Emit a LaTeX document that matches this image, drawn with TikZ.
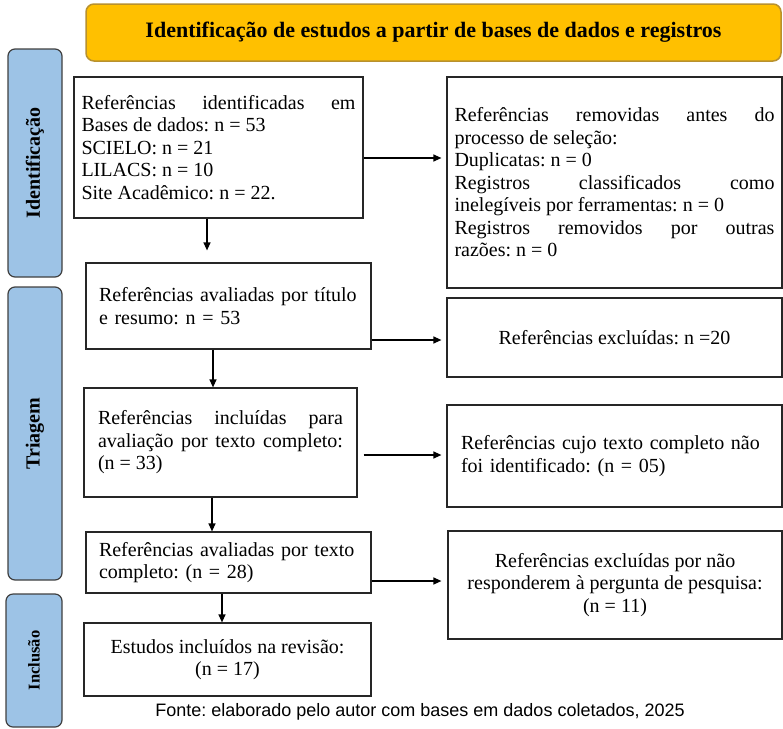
\documentclass[tikz,border=0pt]{standalone}
\usepackage{fontspec}
\setmainfont{Liberation Serif}
\setsansfont{Liberation Sans}
\usetikzlibrary{positioning, arrows.meta}
\frenchspacing

\definecolor{bannerfill}{HTML}{FFC000}
\definecolor{bannerline}{HTML}{B8912E}
\definecolor{phasefill}{HTML}{9DC3E6}
\definecolor{phaseline}{HTML}{404040}

\begin{document}
\begin{tikzpicture}[x=1pt, y=-1pt, >={Triangle[length=8pt, width=7pt]}, thick,
    box/.style={draw=black!85, line width=1.2pt, inner xsep=7pt, font=\fontsize{20}{22.5}\selectfont},
    phase/.style={draw=phaseline, fill=phasefill, line width=1.2pt, rounded corners=7pt, rotate=90, inner sep=0pt, font=\bfseries\fontsize{20}{22}\selectfont},
    arr/.style={->, line width=1.2pt}]
    \useasboundingbox (0,0) rectangle (783,728);

    % Title
    \node[draw=bannerline, fill=bannerfill, line width=1.5pt, rounded corners=8pt, minimum width=695pt, minimum height=57pt, font=\bfseries\fontsize{22}{24}\selectfont] (title) at (433.5,32.5) {Identificação de estudos a partir de bases de dados e registros};

    % Phases
    \node[phase, minimum width=228pt, minimum height=54pt] (fase1) at (35,163) {Identificação};
    \node[phase, minimum width=293pt, minimum height=54pt] (fase2) at (35,433.5) {Triagem};
    \node[phase, minimum width=133pt, minimum height=56pt, font=\bfseries\fontsize{16.5}{18}\selectfont] (fase3) at (34,660.5) {Inclusão};

    % Left column
    \node[box, minimum width=289pt, minimum height=141pt, text width=274pt, align=justify] (ident) at (218.5,147.5) {Referências identificadas em\linebreak Bases de dados: n = 53\\ SCIELO: n = 21\\ LILACS: n = 10\\ Site Acadêmico: n = 22.};
    \node[box, minimum width=285pt, minimum height=86pt, text width=259pt, align=left] (titulo) at (228.5,306) {Referências avaliadas por título\\ e resumo: n = 53};
    \node[box, minimum width=273pt, minimum height=109pt, text width=245pt, align=justify] (incl) at (220.5,442.5) {Referências incluídas para\linebreak avaliação por texto completo:\linebreak (n = 33)};
    \node[box, minimum width=285pt, minimum height=61pt, text width=259pt, align=left] (texto) at (228.5,562.5) {Referências avaliadas por texto\\ completo: (n = 28)};
    \node[box, minimum width=287pt, minimum height=73pt, align=center] (estudos) at (227.5,659.5) {Estudos incluídos na revisão:\\ (n = 17)};

    % Right column
    \node[box, minimum width=335pt, minimum height=211pt, text width=320pt, align=justify] (remov) at (614.5,182.5) {Referências removidas antes do\linebreak processo de seleção:\\ Duplicatas: n = 0\\ Registros classificados como\linebreak inelegíveis por ferramentas: n = 0\\ Registros removidos por outras\linebreak razões: n = 0};
    \node[box, minimum width=335pt, minimum height=79pt] (excl) at (614.5,337.5) {Referências excluídas: n =20};
    \node[box, minimum width=335pt, minimum height=102pt, text width=307pt, align=left] (naoid) at (614.5,456) {Referências cujo texto completo não\\ foi identificado: (n = 05)};
    \node[box, minimum width=334pt, minimum height=108pt, align=center] (pergunta) at (615,585) {Referências excluídas por não\\ responderem à pergunta de pesquisa:\\ (n = 11)};

    % Source
    \node[font=\sffamily\fontsize{18}{20}\selectfont] (fonte) at (420,712) {Fonte: elaborado pelo autor com bases em dados coletados, 2025};

    % Arrows down
    \draw[arr, shorten >=12pt] ([xshift=-11.5pt]ident.south) -- ([xshift=-21.5pt]titulo.north);
    \draw[arr] ([xshift=-15.5pt]titulo.south) -- ([xshift=-7.5pt]incl.north);
    \draw[arr] ([xshift=-8.5pt]incl.south) -- ([xshift=-16.5pt]texto.north);
    \draw[arr] ([xshift=-6.5pt]texto.south) -- ([xshift=-5.5pt]estudos.north);

    % Arrows right
    \draw[arr, shorten >=5pt] ([yshift=-10.5pt]ident.east) -- ([yshift=24.5pt]remov.west);
    \draw[arr, shorten >=5pt] ([yshift=-34pt]titulo.east) -- ([yshift=-2.5pt]excl.west);
    \draw[arr, shorten <=6pt, shorten >=5pt] ([yshift=-12.5pt]incl.east) -- ([yshift=1pt]naoid.west);
    \draw[arr, shorten >=6pt] ([yshift=-18.5pt]texto.east) -- ([yshift=4pt]pergunta.west);
\end{tikzpicture}
\end{document}
